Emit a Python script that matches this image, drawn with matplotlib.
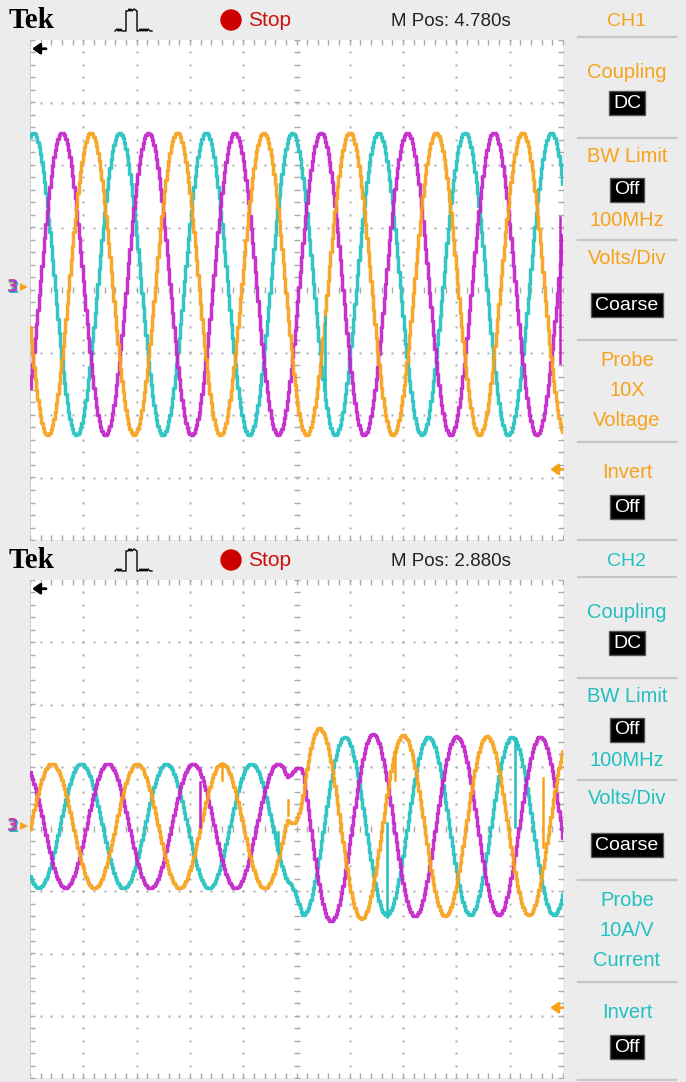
import matplotlib
matplotlib.use("Agg")
import matplotlib.pyplot as plt
import numpy as np
from matplotlib.patches import Rectangle, Circle
from matplotlib.lines import Line2D

W, H = 686, 1082

# traces are stored in screen divisions (10 x 8 graticule), order: CH1, CH2, CH3
trace_colors = ["#f7a21b", "#22c0c0", "#c321c9"]

# upper screen: steady three-phase voltages
top_peak_x = [1.14, 0.06, 0.60]
top_period = 1.62
top_amp = [2.42, 2.42, 2.42]
top_offset = 0.10
top_spikes = [(1, 5.53, -0.43, -1.55), (2, 9.95, 1.17, -1.17)]

# lower screen: currents before and after the load step
bot_pre_peak_x = [0.41, 0.96, 1.46]
bot_pre_period = 1.595
bot_pre_amp = 1.00
bot_post_peak_x = [5.44, 5.91, 6.44]
bot_post_period = 1.567
bot_post_amp = 1.43
bot_overshoot = [0.22, 0.0, 0.20]
bot_step_x = 4.97
bot_offset = 0.05
bot_spikes = [
    (2, 3.19, 0.75, 0.03),
    (0, 3.60, 1.06, 0.79),
    (1, 4.65, -0.05, -0.39),
    (0, 4.84, 0.47, 0.22),
    (1, 6.70, 0.10, -1.41),
    (0, 6.85, 1.27, 0.79),
    (1, 9.10, 1.46, 0.03),
    (0, 9.62, 0.82, -0.29),
]

# side menu entries: (label, boxed, y offset in px from screen top)
menu_items = [
    ("Coupling", False, 72), ("DC", True, 103),
    ("BW Limit", False, 157), ("Off", True, 190), ("100MHz", False, 220),
    ("Volts/Div", False, 258), ("Coarse", True, 305),
]
probe_lines_top = ["Probe", "10X", "Voltage"]
probe_lines_bot = ["Probe", "10A/V", "Current"]
menu_rules = [37, 138, 240, 340, 442, 540]

SANS = ["Liberation Sans", "DejaVu Sans"]
GRID = "#a9a9a9"
ORANGE = trace_colors[0]
CYAN = trace_colors[1]


def px_rect(l, t, r, b):
    return [l / W, 1 - b / H, (r - l) / W, (b - t) / H]


def draw_graticule(ax):
    ax.set_xlim(0, 10)
    ax.set_ylim(-4, 4)
    ax.axis("off")
    ax.add_patch(Rectangle((0, -4), 10, 8, facecolor="white", edgecolor="none", zorder=0))
    fx = np.arange(0, 10.001, 0.2)
    fy = np.arange(-4, 4.001, 0.2)
    for gx in range(1, 10):
        if gx != 5:
            ax.plot(np.full_like(fy, gx), fy, ls="none", marker="s", ms=1.4, mew=0, color=GRID)
    for gy in range(-3, 4):
        if gy != 0:
            ax.plot(fx, np.full_like(fx, gy), ls="none", marker="s", ms=1.4, mew=0, color=GRID)
    ax.plot(np.full_like(fy, 5), fy, ls="none", marker="_", ms=4, mew=1, color=GRID)
    ax.plot(fx, np.zeros_like(fx), ls="none", marker="|", ms=4, mew=1, color=GRID)
    for edge in (-4, 4):
        ax.plot(fx, np.full_like(fx, edge), ls="none", marker="|", ms=7, mew=1, color=GRID)
    for edge in (0, 10):
        ax.plot(np.full_like(fy, edge), fy, ls="none", marker="_", ms=7, mew=1, color=GRID)
    ax.axvline(0, color="#c4c4c4", lw=1.2)


def plot_trace(ax, x, y, color):
    ax.plot(x, y, color=color, lw=2.5, drawstyle="steps-mid", alpha=0.92,
            solid_joinstyle="round", zorder=3)


def arrow(ax, x_tip, x_tail, y, color):
    ax.annotate("", xy=(x_tip, y), xytext=(x_tail, y),
                arrowprops=dict(arrowstyle="-|>,head_length=0.45,head_width=0.32",
                                color=color, lw=2.0, shrinkA=0, shrinkB=0), zorder=5)


fig = plt.figure(figsize=(W / 100, H / 100), dpi=100, facecolor="#ececec")

ax_top = fig.add_axes(px_rect(30, 40, 563, 540))
ax_bot = fig.add_axes(px_rect(30, 580, 563, 1078))
draw_graticule(ax_top)
draw_graticule(ax_bot)

xs = np.arange(0, 10.0001, 0.025)

# upper traces
for ch in [1, 2, 0]:
    y = top_offset + top_amp[ch] * np.cos(2 * np.pi * (xs - top_peak_x[ch]) / top_period)
    plot_trace(ax_top, xs, y, trace_colors[ch])
for ch, sx, y0, y1 in top_spikes:
    ax_top.plot([sx, sx], [y0, y1], color=trace_colors[ch], lw=1.8, zorder=3)

# lower traces: blend the two steady states across the step
blend = np.clip((xs - (bot_step_x - 0.15)) / 0.3, 0, 1)
for ch in [1, 2, 0]:
    pre = bot_pre_amp * np.cos(2 * np.pi * (xs - bot_pre_peak_x[ch]) / bot_pre_period)
    amp = bot_post_amp + bot_overshoot[ch] * np.exp(-np.clip(xs - bot_step_x, 0, None) / 1.0)
    post = amp * np.cos(2 * np.pi * (xs - bot_post_peak_x[ch]) / bot_post_period)
    y = bot_offset + (1 - blend) * pre + blend * post
    plot_trace(ax_bot, xs, y, trace_colors[ch])
for ch, sx, y0, y1 in bot_spikes:
    ax_bot.plot([sx, sx], [y0, y1], color=trace_colors[ch], lw=1.8, zorder=3)

# position markers inside the screens
for ax in (ax_top, ax_bot):
    arrow(ax, 0.04, 0.30, 3.86, "black")
    arrow(ax, 9.76, 10.0, -2.87, ORANGE)

# overlay in pixel coordinates for the bezel and menus
ov = fig.add_axes([0, 0, 1, 1])
ov.set_xlim(0, W)
ov.set_ylim(H, 0)
ov.axis("off")
ov.patch.set_visible(False)
ov.set_zorder(5)


def header(y, mpos, ch_label, ch_color):
    ov.text(9, y + 1, "Tek", fontsize=21, fontweight="bold", family=["Liberation Serif", "DejaVu Serif"],
            ha="left", va="center", color="black")
    # trigger glyph
    base, top = y + 11, y - 9
    gx = [115, 117, 118, 119, 120, 121, 122, 124, 126, 126, 128, 129, 130, 131, 132, 134, 137,
          137, 139, 140, 141, 142, 143, 144, 145, 146, 147, 148, 150, 152]
    gy = [base, base - 2, base, base - 2, base, base - 2, base, base, base, top, top, top - 2,
          top, top - 2, top, top - 2, top, base, base, base - 2, base, base - 2, base, base - 2,
          base, base - 2, base, base - 2, base, base]
    ov.add_line(Line2D(gx, gy, color="black", lw=1.0))
    ov.add_patch(Circle((231, y), 10, color="#cc0000"))
    ov.text(248, y + 1, "Stop", fontsize=15, family=SANS, color="#cc1111", ha="left", va="center")
    ov.text(451, y + 1, mpos, fontsize=13.5, family=SANS, color="#222222", ha="center", va="center")
    ov.text(627, y + 1, ch_label, fontsize=14, family=SANS, color=ch_color, ha="center", va="center")


def boxed_label(x, y, label):
    ov.text(x, y, label, fontsize=14, family=SANS, color="white", ha="center", va="center",
            bbox=dict(boxstyle="square,pad=0.2", facecolor="black", edgecolor="#555555"))


def side_menu(y0, color, probe_lines):
    for ry in menu_rules:
        ov.plot([578, 676], [y0 + ry, y0 + ry], color="#c6c6c6", lw=1.6)
    for label, boxed, dy in menu_items:
        if boxed:
            boxed_label(627, y0 + dy, label)
        else:
            ov.text(627, y0 + dy, label, fontsize=14.5, family=SANS, color=color,
                    ha="center", va="center")
    for i, line in enumerate(probe_lines):
        ov.text(627, y0 + 360 + 30 * i, line, fontsize=14.5, family=SANS, color=color,
                ha="center", va="center")
    ov.text(627, y0 + 473, "Invert", fontsize=14.5, family=SANS, color=color, ha="center", va="center")
    boxed_label(627, y0 + 507, "Off")


def ground_marker(y):
    ov.text(12, y, "1", fontsize=12, fontweight="bold", color=ORANGE, ha="center", va="center")
    ov.text(13, y + 1, "2", fontsize=12, fontweight="bold", color=CYAN, ha="center", va="center")
    ov.text(13, y, "3", fontsize=12, fontweight="bold", color=trace_colors[2], ha="center", va="center",
            alpha=0.8)
    ov.plot([24], [y], marker=">", ms=6, color=ORANGE, mew=0)


header(20, "M Pos: 4.780s", "CH1", ORANGE)
header(560, "M Pos: 2.880s", "CH2", CYAN)
side_menu(0, ORANGE, probe_lines_top)
side_menu(540, CYAN, probe_lines_bot)
ground_marker(287)
ground_marker(826)

fig.savefig("out.png", dpi=100, facecolor=fig.get_facecolor())
